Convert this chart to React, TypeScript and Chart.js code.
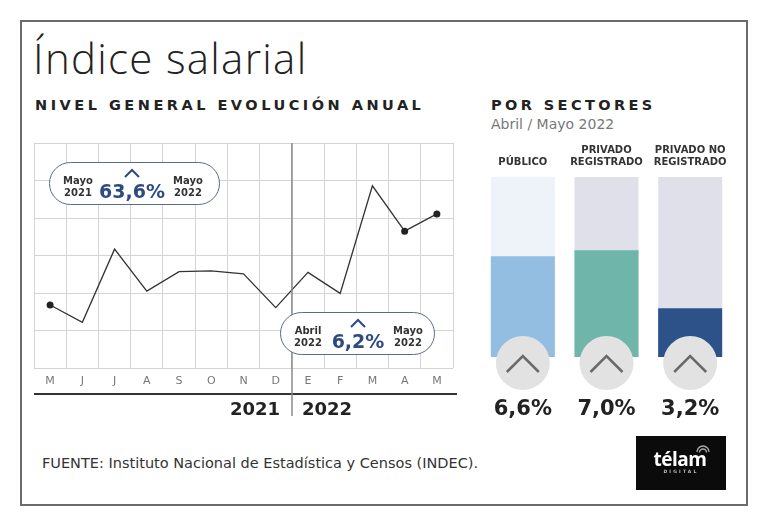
import React, { useEffect, useRef } from "react";
import { Chart, registerables } from "chart.js";

Chart.register(...registerables);

// ---- data ----
const months = ["M", "J", "J", "A", "S", "O", "N", "D", "E", "F", "M", "A", "M"];
const salaryIndex = [1.68, 1.22, 3.17, 2.05, 2.57, 2.59, 2.51, 1.61, 2.55, 1.99, 4.86, 3.65, 4.11];
const markedPoints = [0, 11, 12];
const indexAxisMax = 6;
const yearLabels = ["2021", "2022"];
const yearBreakIndex = 8; // first month of 2022

const sectors = [["PÚBLICO"], ["PRIVADO", "REGISTRADO"], ["PRIVADO NO", "REGISTRADO"]];
const sectorValues = [6.6, 7.0, 3.2];
const sectorScaleMax = 11.8;
const sectorColors = ["#93bde1", "#6fb5a9", "#2d5289"];
const sectorTrackColors = ["#eef3f9", "#dfe0ea", "#dfe0ea"];

const fmtPct = (v: number) => v.toFixed(1).replace(".", ",") + "%";

const SANS = "'DejaVu Sans', sans-serif";

function LineChart() {
  const ref = useRef<HTMLCanvasElement>(null);
  useEffect(() => {
    const extras = {
      id: "extras",
      afterDraw(chart: any) {
        const x = chart.scales.x;
        const px = Math.round((x.getPixelForValue(yearBreakIndex - 1) + x.getPixelForValue(yearBreakIndex)) / 2);
        const ctx = chart.ctx;
        ctx.save();
        // black rule under months
        ctx.strokeStyle = "#333";
        ctx.lineWidth = 2;
        ctx.beginPath();
        ctx.moveTo(chart.chartArea.left, 394);
        ctx.lineTo(chart.chartArea.right + 4, 394);
        ctx.stroke();
        // year divider
        ctx.strokeStyle = "#8a8a8a";
        ctx.lineWidth = 1.5;
        ctx.beginPath();
        ctx.moveTo(px, chart.chartArea.top);
        ctx.lineTo(px, 416);
        ctx.stroke();
        // year labels
        ctx.fillStyle = "#222";
        ctx.font = "bold 18px " + SANS;
        ctx.textBaseline = "middle";
        ctx.textAlign = "right";
        ctx.fillText(yearLabels[0], px - 12, 410);
        ctx.textAlign = "left";
        ctx.fillText(yearLabels[1], px + 10, 410);
        ctx.restore();
      },
    };
    const chart = new Chart(ref.current!, {
      type: "line",
      data: {
        labels: months,
        datasets: [
          {
            data: salaryIndex,
            borderColor: "#333",
            borderWidth: 1.3,
            pointRadius: months.map((_, i) => (markedPoints.includes(i) ? 3.5 : 0)),
            pointBackgroundColor: "#222",
            pointBorderWidth: 0,
            tension: 0,
          },
        ],
      },
      options: {
        animation: false,
        responsive: false,
        maintainAspectRatio: false,
        layout: { padding: { left: 34, top: 143, right: 17, bottom: 32 } },
        plugins: { legend: { display: false }, tooltip: { enabled: false } },
        scales: {
          x: {
            offset: true,
            grid: { offset: true, color: "#d4d4d4", drawTicks: false, lineWidth: 1 },
            border: { display: false },
            ticks: { padding: 7, color: "#777", font: { family: SANS, size: 11 } },
            afterFit: (s: any) => {
              s.height = 30;
            },
          },
          y: {
            min: 0,
            max: indexAxisMax,
            ticks: { stepSize: 1, display: false },
            grid: { color: "#d4d4d4", drawTicks: false },
            border: { display: false },
            afterFit: (s: any) => {
              s.width = 0;
            },
          },
        },
      },
      plugins: [extras],
    } as any);
    return () => chart.destroy();
  }, []);
  return (
    <canvas
      ref={ref}
      width={470}
      height={430}
      style={{ position: "absolute", left: 0, top: 0, width: 470, height: 430 }}
    />
  );
}

function SectorChart() {
  const ref = useRef<HTMLCanvasElement>(null);
  useEffect(() => {
    const badges = {
      id: "badges",
      afterDatasetsDraw(chart: any) {
        const ctx = chart.ctx;
        const meta = chart.getDatasetMeta(0);
        const bottom = chart.chartArea.bottom;
        ctx.save();
        meta.data.forEach((el: any, i: number) => {
          const cx = el.x;
          const cy = bottom + 6;
          ctx.fillStyle = "#e2e2e2";
          ctx.beginPath();
          ctx.arc(cx, cy, 27, 0, Math.PI * 2);
          ctx.fill();
          ctx.strokeStyle = "#6a6a6a";
          ctx.lineWidth = 2.5;
          ctx.beginPath();
          ctx.moveTo(cx - 16, cy + 9);
          ctx.lineTo(cx, cy - 7);
          ctx.lineTo(cx + 16, cy + 9);
          ctx.stroke();
          ctx.fillStyle = "#222";
          ctx.font = "bold 21px " + SANS;
          ctx.textAlign = "center";
          ctx.textBaseline = "middle";
          ctx.fillText(fmtPct(sectorValues[i]), cx, bottom + 53);
        });
        ctx.restore();
      },
    };
    const chart = new Chart(ref.current!, {
      type: "bar",
      data: {
        labels: sectors,
        datasets: [
          {
            data: sectorValues,
            backgroundColor: sectorColors,
            order: 0,
            grouped: false,
            barPercentage: 0.765,
            categoryPercentage: 1,
          },
          {
            data: sectorValues.map(() => sectorScaleMax),
            backgroundColor: sectorTrackColors,
            order: 1,
            grouped: false,
            barPercentage: 0.765,
            categoryPercentage: 1,
          },
        ],
      },
      options: {
        animation: false,
        responsive: false,
        maintainAspectRatio: false,
        layout: { padding: { left: 11, right: 18, top: 0, bottom: 83 } },
        plugins: { legend: { display: false }, tooltip: { enabled: false } },
        scales: {
          x: {
            position: "top",
            grid: { display: false },
            border: { display: false },
            ticks: { padding: 1, color: "#333", font: { family: SANS, weight: "bold", size: 10 } },
            afterFit: (s: any) => {
              s.height = 57;
            },
          },
          y: { display: false, min: 0, max: sectorScaleMax },
        },
      },
      plugins: [badges],
    } as any);
    return () => chart.destroy();
  }, []);
  return (
    <canvas
      ref={ref}
      width={280}
      height={320}
      style={{ position: "absolute", left: 470, top: 120, width: 280, height: 320 }}
    />
  );
}

type TProps = {
  x: number;
  y: number;
  size: number;
  children: React.ReactNode;
  weight?: number;
  color?: string;
  align?: "left" | "center" | "right";
  family?: string;
  ls?: number;
  lh?: number;
};

function T({ x, y, size, children, weight = 400, color = "#222", align = "left", family = SANS, ls = 0, lh }: TProps) {
  const L = lh ?? Math.round(size * 1.3);
  const style: React.CSSProperties = {
    position: "absolute",
    top: y - L / 2,
    lineHeight: L + "px",
    fontSize: size,
    fontWeight: weight,
    fontFamily: family,
    color,
    letterSpacing: ls,
    whiteSpace: "pre",
  };
  if (align === "left") style.left = x;
  else if (align === "center") {
    style.left = x - 200;
    style.width = 400;
    style.textAlign = "center";
  } else {
    style.left = x - 400;
    style.width = 400;
    style.textAlign = "right";
  }
  return <div style={style}>{children}</div>;
}

function Caret({ x, y, color, w = 14, h = 7, sw = 2 }: { x: number; y: number; color: string; w?: number; h?: number; sw?: number }) {
  return (
    <svg
      width={w + 4}
      height={h + 4}
      style={{ position: "absolute", left: x - w / 2 - 2, top: y - h / 2 - 2 }}
    >
      <polyline points={`2,${h + 2} ${w / 2 + 2},2 ${w + 2},${h + 2}`} fill="none" stroke={color} strokeWidth={sw} />
    </svg>
  );
}

function Callout({
  left,
  top,
  width,
  leftLabel,
  rightLabel,
  value,
  leftX,
  rightX,
  valueX,
}: {
  left: number;
  top: number;
  width: number;
  leftLabel: string;
  rightLabel: string;
  value: string;
  leftX: number;
  rightX: number;
  valueX: number;
}) {
  const blue = "#2e4a82";
  return (
    <>
      <div
        style={{
          position: "absolute",
          left,
          top,
          width,
          height: 43,
          boxSizing: "border-box",
          border: "1.2px solid #5a6a8c",
          borderRadius: 22,
          background: "#fff",
        }}
      />
      <T x={leftX} y={top + 19} size={10} weight={700} color="#333" align="center" lh={12}>
        {leftLabel}
      </T>
      <T x={rightX} y={top + 19} size={10} weight={700} color="#333" align="center" lh={12}>
        {rightLabel}
      </T>
      <Caret x={valueX} y={top + 11} color={blue} />
      <T x={valueX} y={top + 29} size={19} weight={700} color={blue} align="center">
        {value}
      </T>
    </>
  );
}

export default function App() {
  return (
    <div
      style={{
        position: "fixed",
        left: 0,
        top: 0,
        width: 768,
        height: 527,
        background: "#fff",
        overflow: "hidden",
      }}
    >
      <div
        style={{
          position: "absolute",
          left: 20,
          top: 20,
          width: 728,
          height: 486,
          boxSizing: "border-box",
          border: "2px solid #6b6b6b",
        }}
      />
      <T x={33} y={58} size={42} weight={300} color="#222" family="'Open Sans', sans-serif" lh={52} ls={1.3}>
        Índice salarial
      </T>
      <T x={35} y={105} size={14.5} weight={700} color="#222" ls={3.5}>
        NIVEL GENERAL EVOLUCIÓN ANUAL
      </T>
      <T x={491} y={105} size={14.5} weight={700} color="#222" ls={3.4}>
        POR SECTORES
      </T>
      <T x={491} y={124} size={14} color="#777">
        Abril / Mayo 2022
      </T>

      <LineChart />
      <SectorChart />

      <Callout
        left={49}
        top={162}
        width={171}
        leftLabel={"Mayo\n2021"}
        rightLabel={"Mayo\n2022"}
        value="63,6%"
        leftX={78}
        rightX={188}
        valueX={132}
      />
      <Callout
        left={280}
        top={312}
        width={155}
        leftLabel={"Abril\n2022"}
        rightLabel={"Mayo\n2022"}
        value="6,2%"
        leftX={308}
        rightX={408}
        valueX={358}
      />

      <T x={42} y={463} size={14.5} color="#333">
        FUENTE: Instituto Nacional de Estadística y Censos (INDEC).
      </T>

      <div style={{ position: "absolute", left: 636, top: 436, width: 90, height: 54, background: "#0b0b0b" }} />
      <T x={680} y={459} size={19} weight={700} color="#fff" align="center" family="'Open Sans', sans-serif" ls={-0.5}>
        télam
      </T>
      <T x={681} y={472} size={4.5} weight={700} color="#bbb" align="center" ls={2.2}>
        DIGITAL
      </T>
      <svg width={16} height={10} style={{ position: "absolute", left: 695, top: 444 }}>
        <path d="M2 8 A6 6 0 0 1 14 8" fill="none" stroke="#aaa" strokeWidth={1.4} />
        <path d="M4.5 8.5 A3.5 3.5 0 0 1 11.5 8.5" fill="none" stroke="#aaa" strokeWidth={1.4} />
      </svg>
    </div>
  );
}
